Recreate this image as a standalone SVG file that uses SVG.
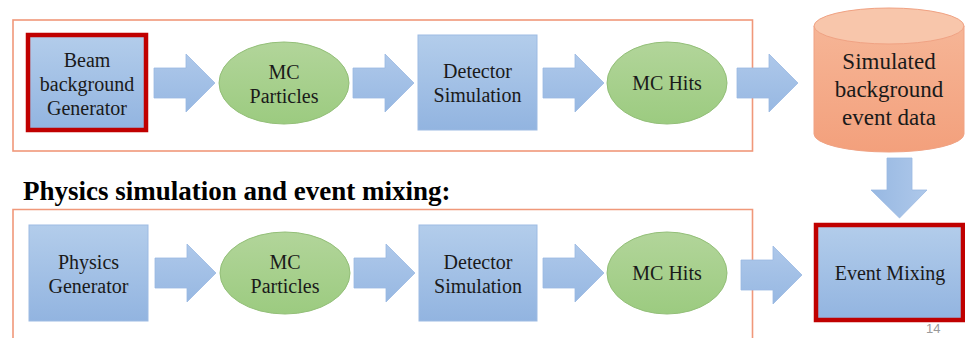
<svg xmlns="http://www.w3.org/2000/svg" width="965" height="338" viewBox="0 0 965 338">
  <defs>
    <linearGradient id="gBlue" x1="0" y1="0" x2="0" y2="1">
      <stop offset="0" stop-color="#b3cdeb"/>
      <stop offset="1" stop-color="#92b4e0"/>
    </linearGradient>
    <linearGradient id="gGreen" x1="0" y1="0" x2="0" y2="1">
      <stop offset="0" stop-color="#b2d59a"/>
      <stop offset="1" stop-color="#9ccb80"/>
    </linearGradient>
    <linearGradient id="gArrow" x1="0" y1="0" x2="0" y2="1">
      <stop offset="0" stop-color="#aec8ea"/>
      <stop offset="1" stop-color="#97b8e2"/>
    </linearGradient>
    <linearGradient id="gArrowV" x1="0" y1="0" x2="1" y2="0">
      <stop offset="0" stop-color="#97b8e2"/>
      <stop offset="1" stop-color="#aec8ea"/>
    </linearGradient>
    <linearGradient id="gSalmon" x1="0" y1="0" x2="0" y2="1">
      <stop offset="0" stop-color="#f6b596"/>
      <stop offset="1" stop-color="#f3a07c"/>
    </linearGradient>
    <!-- one horizontal block arrow, 60 wide, centred on y=0 -->
    <path id="harrow" d="M0,-15 H32 V-29 L61,0 L32,29 V15 H0 Z"/>
  </defs>
  <style>
    .frame { fill: none; stroke: #f0987a; stroke-width: 1.6; }
    .box { fill: url(#gBlue); stroke: #9dbbe3; stroke-width: 1; }
    .hot { fill: url(#gBlue); stroke: #c00000; stroke-width: 4.5; }
    .oval { fill: url(#gGreen); stroke: #93bf78; stroke-width: 1; }
    .arrow { fill: url(#gArrow); stroke: #9ab9e2; stroke-width: 0.8; }
    text { font-family: 'Liberation Serif', serif; }
    .lbl { font-size: 20px; fill: #1a1a1a; text-anchor: middle; }
    .big { font-size: 23px; }
    .title { font-size: 27px; font-weight: bold; fill: #000; }
    .pg { font-family: 'Liberation Sans', sans-serif; font-size: 13px; fill: #9a9a9a; }
  </style>

  <rect width="965" height="338" fill="#ffffff"/>

  <!-- frames -->
  <rect class="frame" x="13" y="20" width="739.5" height="131"/>
  <path class="frame" d="M13,340 V209.5 H752.5 V340"/>

  <text class="title" x="23" y="200">Physics simulation and event mixing:</text>

  <!-- connectors -->
  <g id="connectors">
    <use href="#harrow" class="arrow" transform="translate(154,83)"/>
    <use href="#harrow" class="arrow" transform="translate(353,83)"/>
    <use href="#harrow" class="arrow" transform="translate(543,83)"/>
    <use href="#harrow" class="arrow" transform="translate(737,83)"/>
    <use href="#harrow" class="arrow" transform="translate(155,273)"/>
    <use href="#harrow" class="arrow" transform="translate(354,273)"/>
    <use href="#harrow" class="arrow" transform="translate(543,273)"/>
    <use href="#harrow" class="arrow" transform="translate(741,275)"/>
    <path d="M887,158 H912 V190 H927 L899.5,218 L871,190 H887 Z" fill="url(#gArrowV)" stroke="#9ab9e2" stroke-width="0.8"/>
  </g>

  <!-- background chain -->
  <g id="beam-generator">
    <rect class="hot" x="28" y="35" width="118" height="95"/>
    <text class="lbl" x="87" y="67">Beam</text>
    <text class="lbl" x="87" y="91">background</text>
    <text class="lbl" x="87" y="115">Generator</text>
  </g>
  <g id="mc-particles-1">
    <ellipse class="oval" cx="284" cy="83" rx="65" ry="41"/>
    <text class="lbl" x="284" y="79">MC</text>
    <text class="lbl" x="284" y="103">Particles</text>
  </g>
  <g id="detector-sim-1">
    <rect class="box" x="418" y="35" width="119" height="95"/>
    <text class="lbl" x="477.5" y="78">Detector</text>
    <text class="lbl" x="477.5" y="102">Simulation</text>
  </g>
  <g id="mc-hits-1">
    <ellipse class="oval" cx="667" cy="83" rx="60" ry="41"/>
    <text class="lbl" x="667" y="90">MC Hits</text>
  </g>
  <g id="bg-data">
    <path d="M814,26 V134 A75,18 0 0 0 964,134 V26 Z" fill="url(#gSalmon)" stroke="#f0a283" stroke-width="1"/>
    <ellipse cx="889" cy="26" rx="75" ry="18" fill="#f8c6ab" stroke="#f0a283" stroke-width="1"/>
    <text class="lbl big" x="889" y="69">Simulated</text>
    <text class="lbl big" x="889" y="97">background</text>
    <text class="lbl big" x="889" y="125">event data</text>
  </g>

  <!-- physics chain -->
  <g id="physics-generator">
    <rect class="box" x="29" y="225" width="119" height="96"/>
    <text class="lbl" x="88.5" y="269">Physics</text>
    <text class="lbl" x="88.5" y="293">Generator</text>
  </g>
  <g id="mc-particles-2">
    <ellipse class="oval" cx="285" cy="273" rx="65" ry="41"/>
    <text class="lbl" x="285" y="269">MC</text>
    <text class="lbl" x="285" y="293">Particles</text>
  </g>
  <g id="detector-sim-2">
    <rect class="box" x="419" y="225" width="118" height="96"/>
    <text class="lbl" x="478" y="269">Detector</text>
    <text class="lbl" x="478" y="293">Simulation</text>
  </g>
  <g id="mc-hits-2">
    <ellipse class="oval" cx="667" cy="273" rx="60" ry="41"/>
    <text class="lbl" x="667" y="280">MC Hits</text>
  </g>
  <g id="event-mixing">
    <rect class="hot" x="816" y="225" width="147" height="95"/>
    <text class="lbl" x="890" y="280">Event Mixing</text>
  </g>

  <text class="pg" x="926" y="333">14</text>
</svg>
